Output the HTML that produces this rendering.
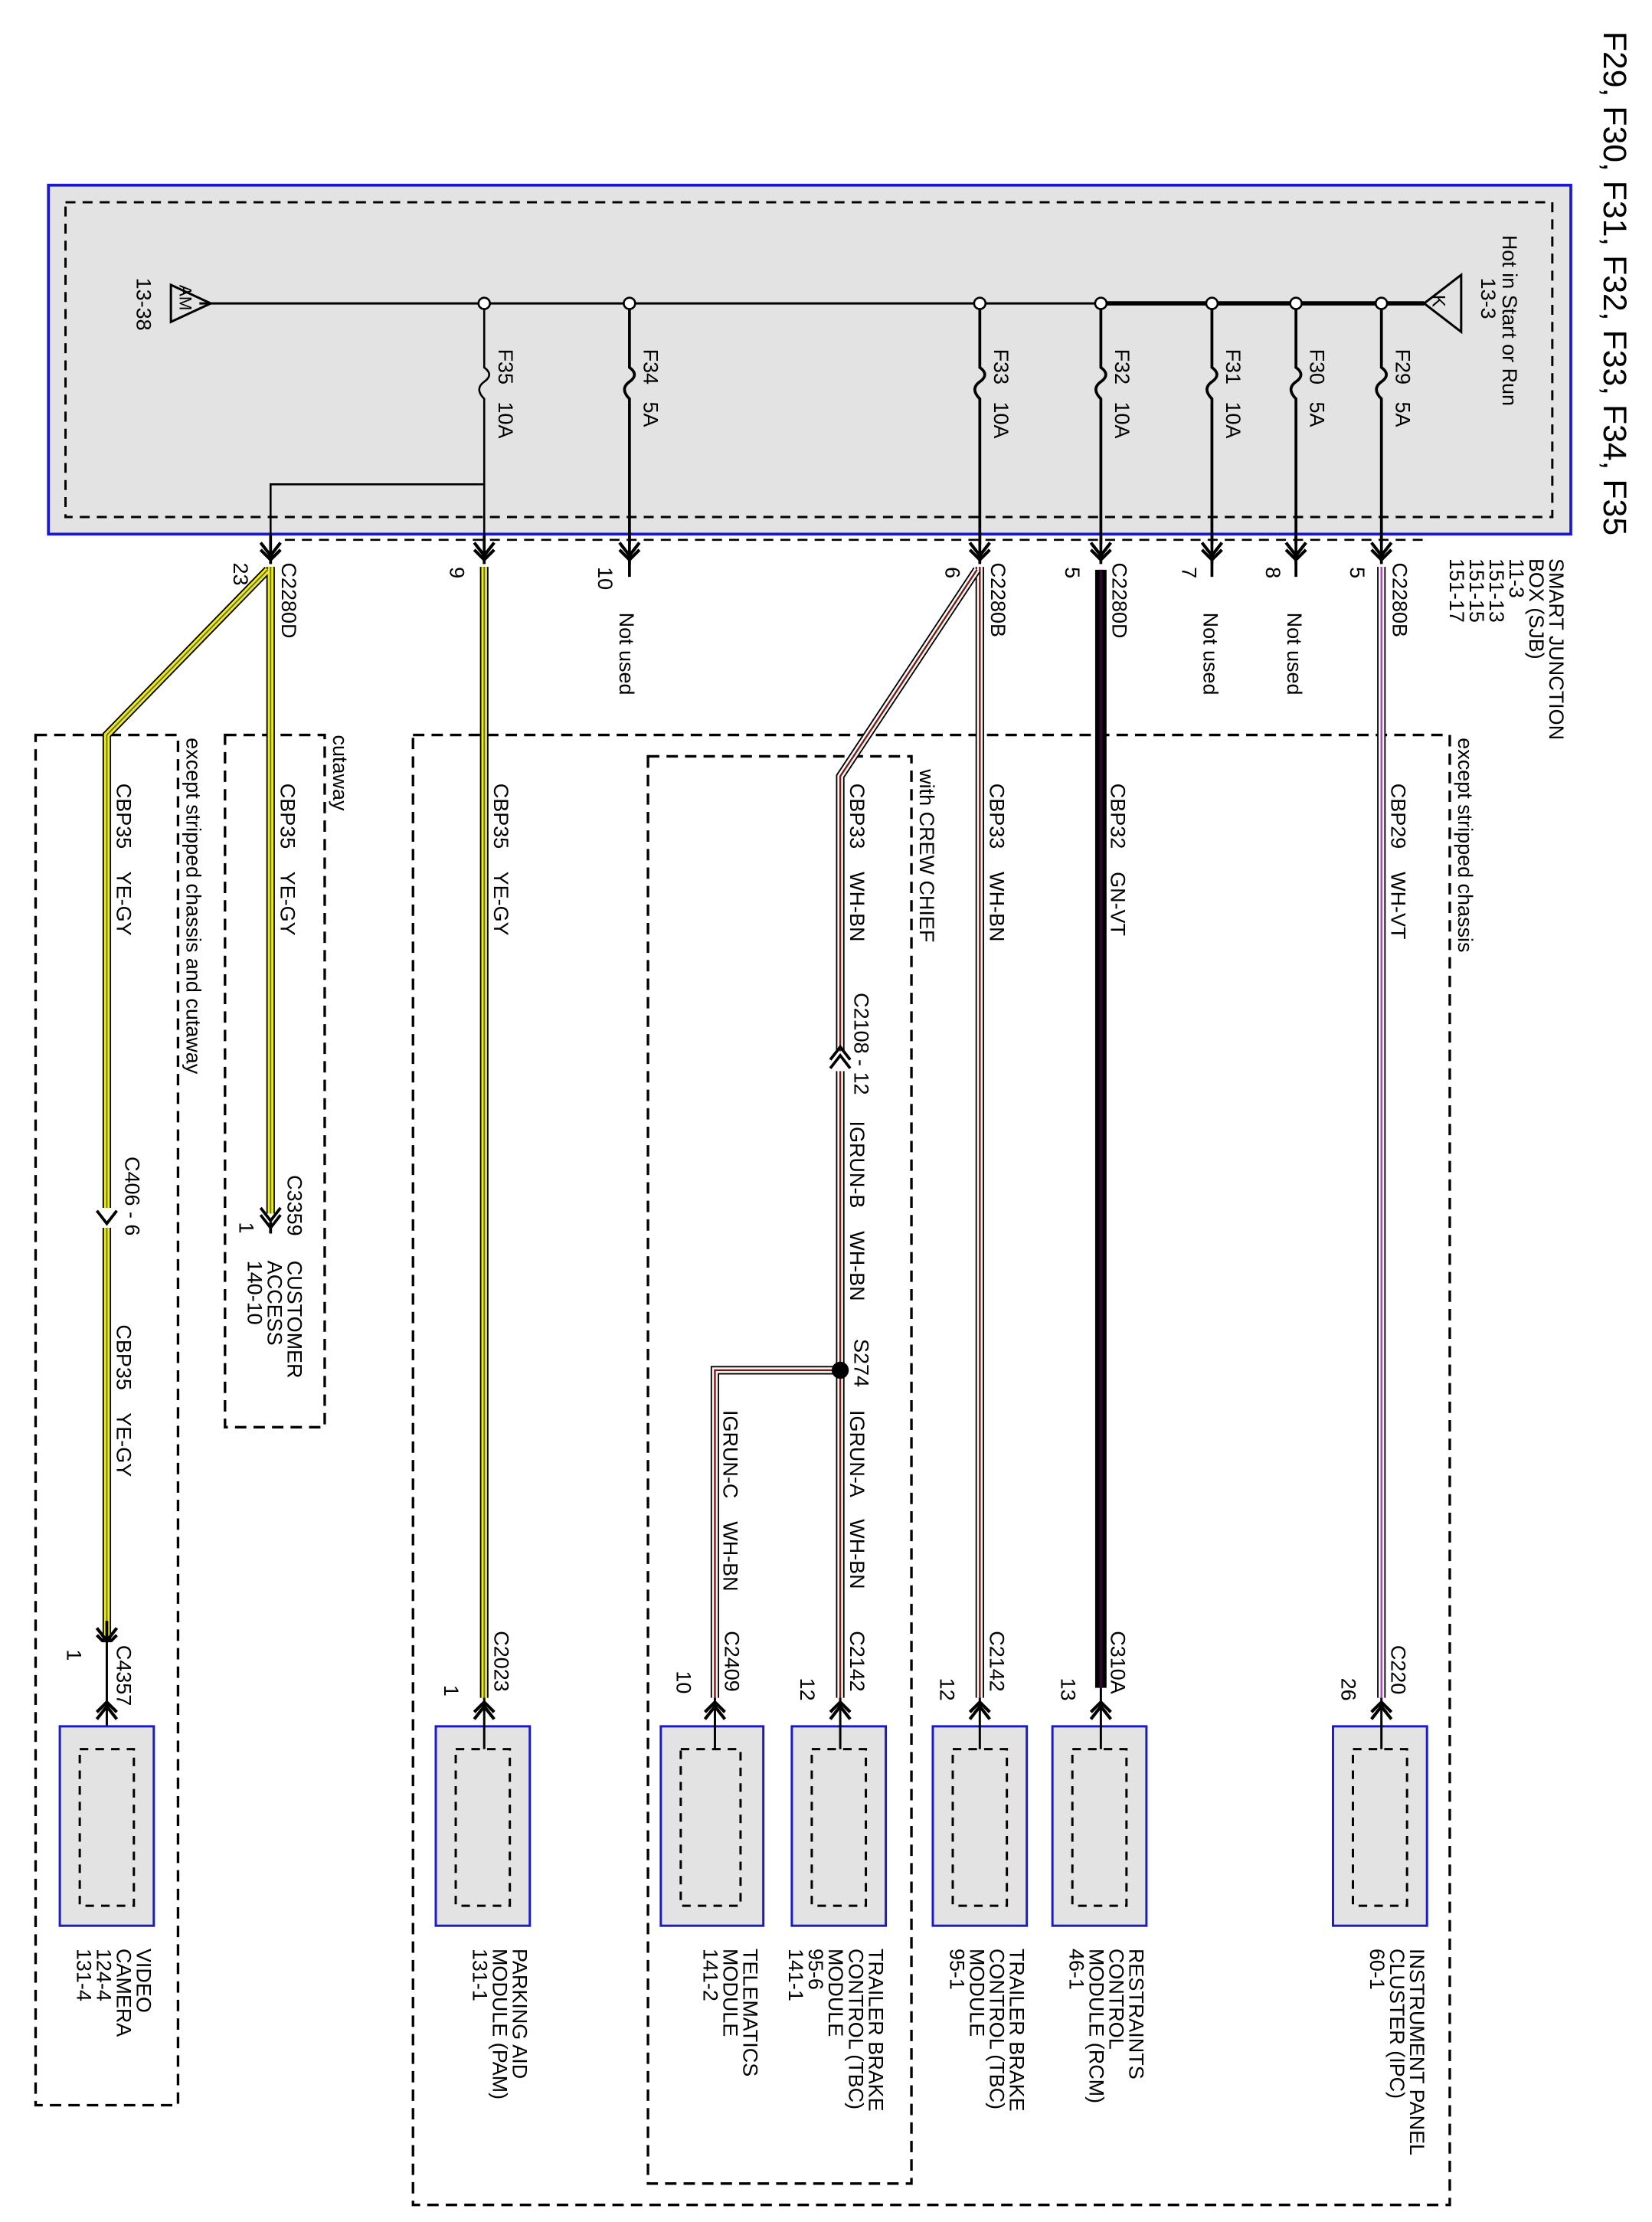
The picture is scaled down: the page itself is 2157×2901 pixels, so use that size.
<!DOCTYPE html>
<html><head><meta charset="utf-8">
<style>
html,body{margin:0;padding:0;background:#fff;}
svg{display:block;}
text{font-family:"Liberation Sans",sans-serif;font-size:14.5px;fill:#000;white-space:pre;}
.t{font-size:23px;}
</style></head><body>
<svg width="2157" height="2901" viewBox="0 0 1160 1560" preserveAspectRatio="none" xmlns="http://www.w3.org/2000/svg" xml:space="preserve">
<defs>
<g id="dn"><path d="M-7,-9 L0,0 L7,-9 M-7,-4 L0,3 L7,-4" fill="none" stroke="#000" stroke-width="2.2"/><line x1="0" y1="-14" x2="0" y2="6" stroke="#000" stroke-width="2"/></g>
<g id="up"><path d="M-7,9 L0,0 L7,9 M-7,4 L0,-3 L7,4" fill="none" stroke="#000" stroke-width="2.2"/></g>
</defs>
<rect width="1160" height="1560" fill="#fff"/>

<text class="t" x="1126" y="22" transform="rotate(90 1126 22)">F29, F30, F31, F32, F33, F34, F35</text>

<rect x="34" y="130" width="1069" height="245" fill="#e3e3e3" stroke="#1a1acc" stroke-width="2"/>
<rect x="46" y="142" width="1044" height="221" fill="none" stroke="#000" stroke-width="1.6" stroke-dasharray="7,5"/>
<text x="1055" y="165" transform="rotate(90 1055 165)">Hot in Start or Run</text>
<text x="1040" y="195" transform="rotate(90 1040 195)">13-3</text>
<text x="96" y="195" transform="rotate(90 96 195)">13-38</text>
<text x="1088" y="392" transform="rotate(90 1088 392)">SMART JUNCTION</text>
<text x="1074" y="392" transform="rotate(90 1074 392)">BOX (SJB)</text>
<text x="1060" y="392" transform="rotate(90 1060 392)">11-3</text>
<text x="1046" y="392" transform="rotate(90 1046 392)">151-13</text>
<text x="1032" y="392" transform="rotate(90 1032 392)">151-15</text>
<text x="1018" y="392" transform="rotate(90 1018 392)">151-17</text>

<line x1="140" y1="213" x2="1000" y2="213" stroke="#000" stroke-width="1.6"/>
<line x1="773" y1="213" x2="1000" y2="213" stroke="#000" stroke-width="3"/>
<path d="M1000,213 L1026,193 L1026,233 Z" fill="none" stroke="#000" stroke-width="1.6"/>
<text x="1006" y="207" transform="rotate(90 1006 207)" style="font-size:13px">K</text>
<path d="M148,213 L120,200 L120,226 Z" fill="none" stroke="#000" stroke-width="1.6"/>
<text x="126" y="200" transform="rotate(90 126 200)" style="font-size:12px">AM</text>

<g stroke="#000" stroke-width="2" fill="none">
<path d="M970,213 V258 q7,5 0,10 q-7,5 0,12 V382"/>
<path d="M910,213 V258 q7,5 0,10 q-7,5 0,12 V382"/>
<path d="M851,213 V258 q7,5 0,10 q-7,5 0,12 V382"/>
<path d="M773,213 V258 q7,5 0,10 q-7,5 0,12 V382"/>
<path d="M688,213 V258 q7,5 0,10 q-7,5 0,12 V382"/>
<path d="M442,213 V258 q7,5 0,10 q-7,5 0,12 V382"/>
<path d="M340,213 V258 q7,5 0,10 q-7,5 0,12 V382" stroke-width="1.4"/>
<path d="M340,340 H190 V382" stroke-width="1.4"/>
</g>
<g fill="#fff" stroke="#000" stroke-width="1.4">
<circle cx="970" cy="213" r="4"/><circle cx="910" cy="213" r="4"/><circle cx="851" cy="213" r="4"/>
<circle cx="773" cy="213" r="4"/><circle cx="688" cy="213" r="4"/><circle cx="442" cy="213" r="4"/><circle cx="340" cy="213" r="4"/>
</g>
<text x="980" y="245" transform="rotate(90 980 245)">F29   5A</text>
<text x="920" y="245" transform="rotate(90 920 245)">F30   5A</text>
<text x="861" y="245" transform="rotate(90 861 245)">F31   10A</text>
<text x="783" y="245" transform="rotate(90 783 245)">F32   10A</text>
<text x="698" y="245" transform="rotate(90 698 245)">F33   10A</text>
<text x="452" y="245" transform="rotate(90 452 245)">F34   5A</text>
<text x="350" y="245" transform="rotate(90 350 245)">F35   10A</text>

<line x1="200" y1="379" x2="1000" y2="379" stroke="#000" stroke-width="1.4" stroke-dasharray="7,5"/>

<use href="#dn" x="970" y="390"/><use href="#dn" x="910" y="390"/><use href="#dn" x="851" y="390"/>
<use href="#dn" x="773" y="390"/><use href="#dn" x="688" y="390"/><use href="#dn" x="442" y="390"/>
<use href="#dn" x="340" y="390"/><use href="#dn" x="190" y="390"/>
<line x1="910" y1="390" x2="910" y2="405" stroke="#000" stroke-width="2"/>
<line x1="851" y1="390" x2="851" y2="405" stroke="#000" stroke-width="2"/>
<line x1="442" y1="390" x2="442" y2="405" stroke="#000" stroke-width="2"/>

<text x="978" y="395" transform="rotate(90 978 395)">C2280B</text>
<text x="948" y="398" transform="rotate(90 948 398)">5</text>
<text x="889" y="398" transform="rotate(90 889 398)">8</text>
<text x="904" y="430" transform="rotate(90 904 430)">Not used</text>
<text x="830" y="398" transform="rotate(90 830 398)">7</text>
<text x="845" y="430" transform="rotate(90 845 430)">Not used</text>
<text x="781" y="395" transform="rotate(90 781 395)">C2280D</text>
<text x="748" y="398" transform="rotate(90 748 398)">5</text>
<text x="696" y="395" transform="rotate(90 696 395)">C2280B</text>
<text x="664" y="398" transform="rotate(90 664 398)">6</text>
<text x="420" y="398" transform="rotate(90 420 398)">10</text>
<text x="435" y="430" transform="rotate(90 435 430)">Not used</text>
<text x="316" y="398" transform="rotate(90 316 398)">9</text>
<text x="198" y="395" transform="rotate(90 198 395)">C2280D</text>
<text x="164" y="395" transform="rotate(90 164 395)">23</text>

<g fill="none" stroke="#000" stroke-width="1.8" stroke-dasharray="8,5">
<rect x="290" y="516" width="728" height="1032"/>
<rect x="455" y="531" width="185" height="1002"/>
<rect x="158" y="516" width="70" height="486"/>
<rect x="25" y="516" width="100" height="962"/>
</g>
<text x="1024" y="518" transform="rotate(90 1024 518)">except stripped chassis</text>
<text x="646" y="540" transform="rotate(90 646 540)">with CREW CHIEF</text>
<text x="234" y="516" transform="rotate(90 234 516)">cutaway</text>
<text x="131" y="518" transform="rotate(90 131 518)">except stripped chassis and cutaway</text>

<g fill="none">
<line x1="970" y1="398" x2="970" y2="1192" stroke="#000" stroke-width="6"/>
<line x1="970" y1="398" x2="970" y2="1192" stroke="#fff" stroke-width="4"/>
<line x1="970" y1="398" x2="970" y2="1192" stroke="#b040c0" stroke-width="1.3"/>
<line x1="773" y1="400" x2="773" y2="1185" stroke="#000" stroke-width="8"/>
<line x1="773" y1="400" x2="773" y2="1185" stroke="#300830" stroke-width="2"/>
<line x1="688" y1="398" x2="688" y2="1192" stroke="#000" stroke-width="6"/>
<line x1="688" y1="398" x2="688" y2="1192" stroke="#fff" stroke-width="4"/>
<line x1="688" y1="398" x2="688" y2="1192" stroke="#7a1a10" stroke-width="1.3"/>
<path d="M686,400 L590,545 V962 M590,962 V1192 M590,962 H502 V1192" stroke="#000" stroke-width="6"/>
<path d="M686,400 L590,545 V962 M590,962 V1192 M590,962 H502 V1192" stroke="#fff" stroke-width="4"/>
<path d="M686,400 L590,545 V962 M590,962 V1192 M590,962 H502 V1192" stroke="#7a1a10" stroke-width="1.3"/>
<path d="M340,398 V1192" stroke="#000" stroke-width="6"/>
<path d="M340,398 V1192" stroke="#f0f000" stroke-width="4"/>
<path d="M340,398 V1192" stroke="#666" stroke-width="1"/>
<path d="M190,398 V858 M188,400 L75,516 V1192" stroke="#000" stroke-width="6"/>
<path d="M190,398 V858 M188,400 L75,516 V1192" stroke="#f0f000" stroke-width="4"/>
<path d="M190,398 V858 M188,400 L75,516 V1192" stroke="#666" stroke-width="1"/>
</g>
<circle cx="590" cy="962" r="6" fill="#000"/>
<rect x="582" y="738" width="16" height="14" fill="#fff"/>
<path d="M583,750 L590,741 L597,750" fill="none" stroke="#000" stroke-width="2"/>
<path d="M583,744 L590,735 L597,744" fill="none" stroke="#000" stroke-width="2"/>
<rect x="67" y="848" width="16" height="14" fill="#fff"/>
<path d="M68,850 L75,859 L82,850" fill="none" stroke="#000" stroke-width="2"/>
<rect x="182" y="852" width="16" height="14" fill="#fff"/>
<path d="M183,848 L190,857 L197,848 M183,853 L190,862 L197,853" fill="none" stroke="#000" stroke-width="2"/>
<line x1="190" y1="858" x2="190" y2="866" stroke="#000" stroke-width="2"/>
<use href="#dn" x="75" y="1152"/>
<rect x="70" y="1153" width="10" height="40" fill="#fff"/>
<line x1="75" y1="1152" x2="75" y2="1228" stroke="#000" stroke-width="1.6"/>
<use href="#up" x="75" y="1198"/>

<text x="977" y="550" transform="rotate(90 977 550)">CBP29    WH-VT</text>
<text x="780" y="550" transform="rotate(90 780 550)">CBP32    GN-VT</text>
<text x="695" y="550" transform="rotate(90 695 550)">CBP33    WH-BN</text>
<text x="597" y="550" transform="rotate(90 597 550)">CBP33    WH-BN</text>
<text x="600" y="697" transform="rotate(90 600 697)">C2108 - 12</text>
<text x="597" y="787" transform="rotate(90 597 787)">IGRUN-B    WH-BN</text>
<text x="600" y="940" transform="rotate(90 600 940)">S274</text>
<text x="597" y="990" transform="rotate(90 597 990)">IGRUN-A    WH-BN</text>
<text x="508" y="990" transform="rotate(90 508 990)">IGRUN-C    WH-BN</text>
<text x="347" y="550" transform="rotate(90 347 550)">CBP35    YE-GY</text>
<text x="197" y="550" transform="rotate(90 197 550)">CBP35    YE-GY</text>
<text x="82" y="550" transform="rotate(90 82 550)">CBP35    YE-GY</text>
<text x="88" y="812" transform="rotate(90 88 812)">C406 - 6</text>
<text x="82" y="930" transform="rotate(90 82 930)">CBP35    YE-GY</text>
<text x="202" y="825" transform="rotate(90 202 825)">C3359</text>
<text x="168" y="858" transform="rotate(90 168 858)">1</text>
<text x="202" y="885" transform="rotate(90 202 885)">CUSTOMER</text>
<text x="188" y="885" transform="rotate(90 188 885)">ACCESS</text>
<text x="174" y="885" transform="rotate(90 174 885)">140-10</text>

<text x="977" y="1155" transform="rotate(90 977 1155)">C220</text>
<text x="942" y="1178" transform="rotate(90 942 1178)">26</text>
<text x="780" y="1145" transform="rotate(90 780 1145)">C310A</text>
<text x="745" y="1178" transform="rotate(90 745 1178)">13</text>
<text x="695" y="1145" transform="rotate(90 695 1145)">C2142</text>
<text x="660" y="1178" transform="rotate(90 660 1178)">12</text>
<text x="597" y="1145" transform="rotate(90 597 1145)">C2142</text>
<text x="562" y="1178" transform="rotate(90 562 1178)">12</text>
<text x="509" y="1145" transform="rotate(90 509 1145)">C2409</text>
<text x="475" y="1173" transform="rotate(90 475 1173)">10</text>
<text x="347" y="1145" transform="rotate(90 347 1145)">C2023</text>
<text x="312" y="1183" transform="rotate(90 312 1183)">1</text>
<text x="82" y="1155" transform="rotate(90 82 1155)">C4357</text>
<text x="47" y="1158" transform="rotate(90 47 1158)">1</text>

<g>
<g transform="translate(936,0)"><rect x="0" y="1212" width="66" height="140" fill="#e3e3e3" stroke="#1a1acc" stroke-width="1.6"/><rect x="14" y="1228" width="38" height="110" fill="none" stroke="#000" stroke-width="1.6" stroke-dasharray="6,5"/></g>
<g transform="translate(739,0)"><rect x="0" y="1212" width="66" height="140" fill="#e3e3e3" stroke="#1a1acc" stroke-width="1.6"/><rect x="14" y="1228" width="38" height="110" fill="none" stroke="#000" stroke-width="1.6" stroke-dasharray="6,5"/></g>
<g transform="translate(655,0)"><rect x="0" y="1212" width="66" height="140" fill="#e3e3e3" stroke="#1a1acc" stroke-width="1.6"/><rect x="14" y="1228" width="38" height="110" fill="none" stroke="#000" stroke-width="1.6" stroke-dasharray="6,5"/></g>
<g transform="translate(556,0)"><rect x="0" y="1212" width="66" height="140" fill="#e3e3e3" stroke="#1a1acc" stroke-width="1.6"/><rect x="14" y="1228" width="38" height="110" fill="none" stroke="#000" stroke-width="1.6" stroke-dasharray="6,5"/></g>
<g transform="translate(464,0)"><rect x="0" y="1212" width="72" height="140" fill="#e3e3e3" stroke="#1a1acc" stroke-width="1.6"/><rect x="14" y="1228" width="42" height="110" fill="none" stroke="#000" stroke-width="1.6" stroke-dasharray="6,5"/></g>
<g transform="translate(306,0)"><rect x="0" y="1212" width="66" height="140" fill="#e3e3e3" stroke="#1a1acc" stroke-width="1.6"/><rect x="14" y="1228" width="38" height="110" fill="none" stroke="#000" stroke-width="1.6" stroke-dasharray="6,5"/></g>
<g transform="translate(42,0)"><rect x="0" y="1212" width="66" height="140" fill="#e3e3e3" stroke="#1a1acc" stroke-width="1.6"/><rect x="14" y="1228" width="38" height="110" fill="none" stroke="#000" stroke-width="1.6" stroke-dasharray="6,5"/></g>
</g>
<g stroke="#000" stroke-width="1.6">
<line x1="970" y1="1192" x2="970" y2="1228"/><line x1="773" y1="1185" x2="773" y2="1228"/>
<line x1="688" y1="1192" x2="688" y2="1228"/><line x1="590" y1="1192" x2="590" y2="1228"/>
<line x1="502" y1="1192" x2="502" y2="1228"/><line x1="340" y1="1192" x2="340" y2="1228"/>
</g>
<use href="#up" x="970" y="1198"/><use href="#up" x="773" y="1198"/><use href="#up" x="688" y="1198"/>
<use href="#up" x="590" y="1198"/><use href="#up" x="502" y="1198"/><use href="#up" x="340" y="1198"/>

<text x="990" y="1368" transform="rotate(90 990 1368)">INSTRUMENT PANEL</text>
<text x="976" y="1368" transform="rotate(90 976 1368)">CLUSTER (IPC)</text>
<text x="962" y="1368" transform="rotate(90 962 1368)">60-1</text>
<text x="793" y="1368" transform="rotate(90 793 1368)">RESTRAINTS</text>
<text x="779" y="1368" transform="rotate(90 779 1368)">CONTROL</text>
<text x="765" y="1368" transform="rotate(90 765 1368)">MODULE (RCM)</text>
<text x="751" y="1368" transform="rotate(90 751 1368)">46-1</text>
<text x="709" y="1368" transform="rotate(90 709 1368)">TRAILER BRAKE</text>
<text x="695" y="1368" transform="rotate(90 695 1368)">CONTROL (TBC)</text>
<text x="681" y="1368" transform="rotate(90 681 1368)">MODULE</text>
<text x="667" y="1368" transform="rotate(90 667 1368)">95-1</text>
<text x="610" y="1368" transform="rotate(90 610 1368)">TRAILER BRAKE</text>
<text x="596" y="1368" transform="rotate(90 596 1368)">CONTROL (TBC)</text>
<text x="582" y="1368" transform="rotate(90 582 1368)">MODULE</text>
<text x="568" y="1368" transform="rotate(90 568 1368)">95-6</text>
<text x="554" y="1368" transform="rotate(90 554 1368)">141-1</text>
<text x="522" y="1368" transform="rotate(90 522 1368)">TELEMATICS</text>
<text x="508" y="1368" transform="rotate(90 508 1368)">MODULE</text>
<text x="494" y="1368" transform="rotate(90 494 1368)">141-2</text>
<text x="360" y="1368" transform="rotate(90 360 1368)">PARKING AID</text>
<text x="346" y="1368" transform="rotate(90 346 1368)">MODULE (PAM)</text>
<text x="332" y="1368" transform="rotate(90 332 1368)">131-1</text>
<text x="96" y="1368" transform="rotate(90 96 1368)">VIDEO</text>
<text x="82" y="1368" transform="rotate(90 82 1368)">CAMERA</text>
<text x="68" y="1368" transform="rotate(90 68 1368)">124-4</text>
<text x="54" y="1368" transform="rotate(90 54 1368)">131-4</text>
</svg>
</body></html>
